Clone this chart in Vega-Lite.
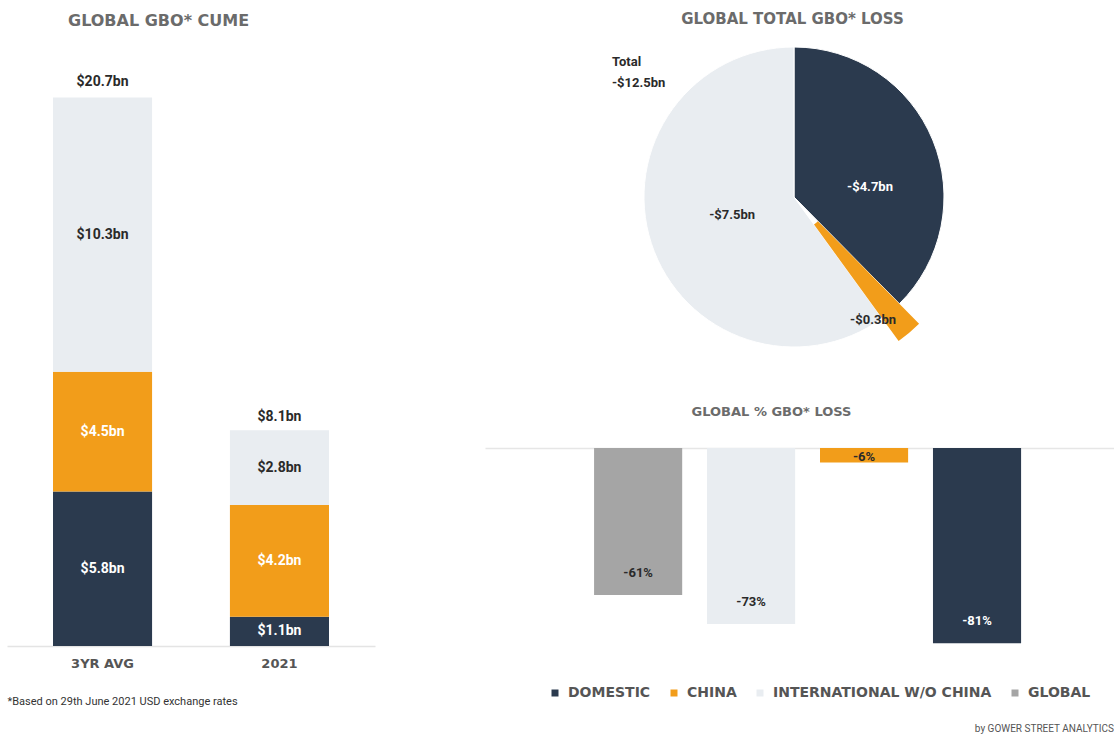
{
  "$schema": "https://vega.github.io/schema/vega-lite/v6.json",
  "background": "white",
  "padding": {"left": 7, "top": 12, "right": 0, "bottom": 0},
  "config": {
    "view": {"stroke": null},
    "font": "Roboto",
    "axis": {"grid": false}
  },
  "title": {"text": "by GOWER STREET ANALYTICS", "orient": "bottom", "anchor": "end", "fontSize": 10, "fontWeight": "normal", "font": "Roboto", "color": "#555555", "offset": 18},
  "datasets": {
    "cume": [
      {"period": "3YR AVG", "region": "DOMESTIC", "rank": 1, "value": 5.8, "label": "$5.8bn"},
      {"period": "3YR AVG", "region": "CHINA", "rank": 2, "value": 4.5, "label": "$4.5bn"},
      {"period": "3YR AVG", "region": "INTERNATIONAL W/O CHINA", "rank": 3, "value": 10.3, "label": "$10.3bn"},
      {"period": "2021", "region": "DOMESTIC", "rank": 1, "value": 1.1, "label": "$1.1bn"},
      {"period": "2021", "region": "CHINA", "rank": 2, "value": 4.2, "label": "$4.2bn"},
      {"period": "2021", "region": "INTERNATIONAL W/O CHINA", "rank": 3, "value": 2.8, "label": "$2.8bn"}
    ],
    "cumeTotal": [
      {"period": "3YR AVG", "total": 20.7, "label": "$20.7bn"},
      {"period": "2021", "total": 8.1, "label": "$8.1bn"}
    ],
    "loss": [
      {"region": "DOMESTIC", "rank": 1, "value": 4.7, "label": "-$4.7bn"},
      {"region": "CHINA", "rank": 2, "value": 0.3, "label": "-$0.3bn"},
      {"region": "INTERNATIONAL W/O CHINA", "rank": 3, "value": 7.5, "label": "-$7.5bn"}
    ],
    "pct": [
      {"region": "GLOBAL", "pct": -61, "label": "-61%"},
      {"region": "INTERNATIONAL W/O CHINA", "pct": -73, "label": "-73%"},
      {"region": "CHINA", "pct": -6, "label": "-6%"},
      {"region": "DOMESTIC", "pct": -81, "label": "-81%"}
    ]
  },
  "spacing": 110,
  "resolve": {"scale": {"color": "independent"}, "legend": {"color": "independent"}},
  "hconcat": [
    {
      "width": 368,
      "height": 599,
      "title": {"text": "GLOBAL GBO* CUME", "anchor": "start", "dx": 61, "offset": 18, "font": "DejaVu Sans", "fontSize": 16, "fontWeight": "bold", "color": "#6b6b6b"},
      "data": {"name": "cume"},
      "encoding": {
        "x": {
          "field": "period", "type": "nominal", "sort": ["3YR AVG", "2021"],
          "scale": {"paddingInner": 0.44, "paddingOuter": 0.26},
          "axis": {"title": "*Based on 29th June 2021 USD exchange rates", "labelAngle": 0, "ticks": false, "domainColor": "#e4e4e4", "domainWidth": 1.5, "labelPadding": 11, "labelFont": "DejaVu Sans", "labelFontSize": 13, "labelFontWeight": "bold", "labelColor": "#555555", "titleAnchor": "start", "titleAlign": "left", "titleFont": "Roboto", "titleFontSize": 11, "titleFontWeight": "normal", "titleColor": "#333333", "titlePadding": 25}
        }
      },
      "layer": [
        {
          "mark": {"type": "bar"},
          "encoding": {
            "y": {"field": "value", "type": "quantitative", "stack": "zero", "scale": {"domain": [0, 22.5], "nice": false}, "axis": null},
            "color": {"field": "region", "type": "nominal", "scale": {"domain": ["DOMESTIC", "CHINA", "INTERNATIONAL W/O CHINA", "GLOBAL"], "range": ["#2b3a4e", "#f29d1a", "#e9edf1", "#a5a5a5"]}, "legend": null},
            "order": {"field": "rank", "type": "quantitative"}
          }
        },
        {
          "transform": [
            {"stack": "value", "groupby": ["period"], "sort": [{"field": "rank"}], "as": ["v0", "v1"]},
            {"calculate": "(datum.v0 + datum.v1) / 2", "as": "mid"}
          ],
          "mark": {"type": "text", "font": "Roboto", "fontSize": 14, "fontWeight": "bold"},
          "encoding": {
            "y": {"field": "mid", "type": "quantitative", "scale": {"domain": [0, 22.5], "nice": false}, "axis": null},
            "text": {"field": "label"},
            "color": {"condition": {"test": "datum.region === 'INTERNATIONAL W/O CHINA'", "value": "#2a2a2a"}, "value": "white"}
          }
        },
        {
          "data": {"name": "cumeTotal"},
          "mark": {"type": "text", "font": "Roboto", "fontSize": 14, "fontWeight": "bold", "color": "#2a2a2a", "dy": -13},
          "encoding": {
            "y": {"field": "total", "type": "quantitative", "scale": {"domain": [0, 22.5], "nice": false}, "axis": null},
            "text": {"field": "label"}
          }
        }
      ]
    },
    {
      "title": {"text": "GLOBAL TOTAL GBO* LOSS", "anchor": "middle", "dx": -7, "offset": 18, "font": "DejaVu Sans", "fontSize": 15, "fontWeight": "bold", "color": "#6b6b6b"},
      "spacing": 57,
      "resolve": {"scale": {"color": "independent"}, "legend": {"color": "independent"}},
      "vconcat": [
        {
          "width": 618,
          "height": 300,
          "title": {"text": ["Total", "-$12.5bn"], "anchor": "start", "dx": 127, "offset": -45, "font": "Roboto", "fontSize": 13, "fontWeight": "bold", "color": "#2a2a2a", "lineHeight": 21},
          "data": {"name": "loss"},
          "transform": [
            {"stack": "value", "groupby": [], "sort": [{"field": "rank"}], "as": ["t0", "t1"]},
            {"calculate": "(datum.t0 + datum.t1) / 2", "as": "tm"}
          ],
          "layer": [
            {
              "transform": [{"filter": "datum.region !== 'CHINA'"}],
              "mark": {"type": "arc", "stroke": "white", "strokeWidth": 1},
              "encoding": {
                "theta": {"field": "t0", "type": "quantitative", "scale": {"domain": [0, 12.5], "nice": false}},
                "theta2": {"field": "t1"},
                "color": {"field": "region", "type": "nominal", "scale": {"domain": ["DOMESTIC", "CHINA", "INTERNATIONAL W/O CHINA", "GLOBAL"], "range": ["#2b3a4e", "#f29d1a", "#e9edf1", "#a5a5a5"]}, "legend": null}
              }
            },
            {
              "transform": [{"filter": "datum.region === 'CHINA'"}],
              "mark": {"type": "arc", "radius": 178, "radius2": 34},
              "encoding": {
                "theta": {"field": "t0", "type": "quantitative", "scale": {"domain": [0, 12.5], "nice": false}},
                "theta2": {"field": "t1"},
                "color": {"field": "region", "type": "nominal", "scale": {"domain": ["DOMESTIC", "CHINA", "INTERNATIONAL W/O CHINA", "GLOBAL"], "range": ["#2b3a4e", "#f29d1a", "#e9edf1", "#a5a5a5"]}, "legend": null}
              }
            },
            {
              "transform": [{"filter": "datum.region === 'DOMESTIC'"}],
              "mark": {"type": "text", "radius": 80, "dx": 2, "dy": 20, "font": "Roboto", "fontSize": 13, "fontWeight": "bold", "color": "white"},
              "encoding": {
                "theta": {"field": "tm", "type": "quantitative", "scale": {"domain": [0, 12.5], "nice": false}},
                "text": {"field": "label"}
              }
            },
            {
              "transform": [{"filter": "datum.region === 'INTERNATIONAL W/O CHINA'"}],
              "mark": {"type": "text", "radius": 65, "dy": -2, "font": "Roboto", "fontSize": 13, "fontWeight": "bold", "color": "#2a2a2a"},
              "encoding": {
                "theta": {"field": "tm", "type": "quantitative", "scale": {"domain": [0, 12.5], "nice": false}},
                "text": {"field": "label"}
              }
            },
            {
              "transform": [{"filter": "datum.region === 'CHINA'"}],
              "mark": {"type": "text", "radius": 150, "dx": -18, "dy": 9, "font": "Roboto", "fontSize": 13, "fontWeight": "bold", "color": "#2a2a2a"},
              "encoding": {
                "theta": {"field": "tm", "type": "quantitative", "scale": {"domain": [0, 12.5], "nice": false}},
                "text": {"field": "label"}
              }
            }
          ]
        },
        {
          "width": 629,
          "height": 205,
          "title": {"text": "GLOBAL % GBO* LOSS", "anchor": "middle", "dx": -28, "offset": 29, "font": "DejaVu Sans", "fontSize": 13, "fontWeight": "bold", "color": "#6b6b6b"},
          "data": {"name": "pct"},
          "encoding": {
            "x": {
              "field": "region", "type": "nominal", "sort": ["GLOBAL", "INTERNATIONAL W/O CHINA", "CHINA", "DOMESTIC"],
              "scale": {"paddingInner": 0.22, "paddingOuter": 0.894, "align": 0.54},
              "axis": {"orient": "top", "labels": false, "ticks": false, "title": null, "domainColor": "#e6e6e6", "domainWidth": 1.5}
            },
            "y": {"field": "pct", "type": "quantitative", "scale": {"domain": [-85, 0], "nice": false}, "axis": null}
          },
          "layer": [
            {
              "mark": {"type": "bar"},
              "encoding": {
                "color": {
                  "field": "region", "type": "nominal",
                  "scale": {"domain": ["DOMESTIC", "CHINA", "INTERNATIONAL W/O CHINA", "GLOBAL"], "range": ["#2b3a4e", "#f29d1a", "#e9edf1", "#a5a5a5"]},
                  "legend": {"orient": "none", "legendX": 63, "legendY": 238, "direction": "horizontal", "title": null, "symbolType": "square", "symbolSize": 49, "symbolStrokeWidth": 0, "labelFont": "DejaVu Sans", "labelFontSize": 14, "labelFontWeight": "bold", "labelColor": "#555555", "labelLimit": 400, "columnPadding": 16, "labelOffset": 6}
                }
              }
            },
            {
              "transform": [{"filter": "datum.region !== 'CHINA'"}],
              "mark": {"type": "text", "dy": -22, "font": "Roboto", "fontSize": 13, "fontWeight": "bold"},
              "encoding": {
                "text": {"field": "label"},
                "color": {"condition": {"test": "datum.region === 'DOMESTIC'", "value": "white"}, "value": "#2a2a2a"}
              }
            },
            {
              "transform": [{"filter": "datum.region === 'CHINA'"}],
              "mark": {"type": "text", "dy": -5, "font": "Roboto", "fontSize": 13, "fontWeight": "bold", "color": "#2a2a2a"},
              "encoding": {
                "text": {"field": "label"}
              }
            }
          ]
        }
      ]
    }
  ]
}
